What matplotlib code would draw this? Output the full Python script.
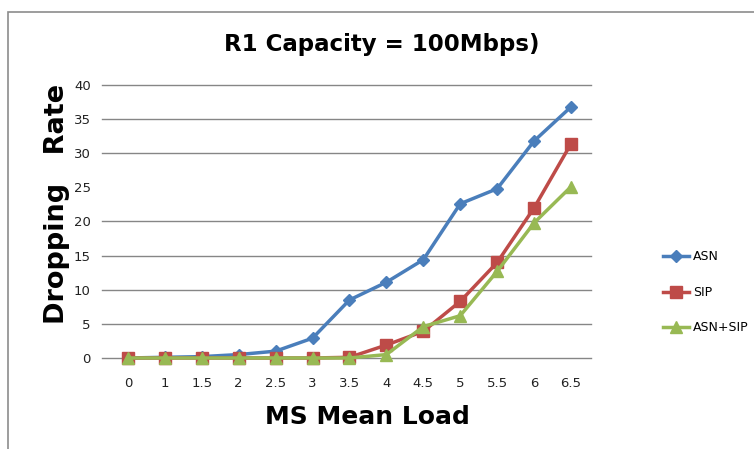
import matplotlib.pyplot as plt
import matplotlib.patches as patches
import numpy as np

# values
loads = ['0', '1', '1.5', '2', '2.5', '3', '3.5', '4', '4.5', '5', '5.5', '6', '6.5']
asn = [0, 0.1, 0.2, 0.5, 1.0, 2.9, 8.5, 11.1, 14.4, 22.6, 24.8, 31.8, 36.8]
sip = [0, 0, 0, 0, 0, 0, 0.1, 1.9, 3.9, 8.3, 14.0, 22.0, 31.4]
asn_sip = [0, 0, 0, 0, 0, 0, 0, 0.5, 4.6, 6.2, 12.7, 19.8, 25.1]
y_ticks = [0, 5, 10, 15, 20, 25, 30, 35, 40]
grid_rows = [0, 5, 10, 15, 20, 30, 35, 40]  # the 25 line is not drawn in the original

fig = plt.figure(figsize=(7.54, 4.49), dpi=100)
ax = fig.add_axes([0.1353, 0.2027, 0.6485, 0.608])

# outer chart border
fig.patches.append(patches.Rectangle((8 / 754, -0.1), 1.2, (449 - 12) / 449 + 0.1,
                                     transform=fig.transFigure, fill=False,
                                     edgecolor='#8c8c8c', linewidth=1.2))

for g in grid_rows:
    ax.axhline(g, color='#868686', linewidth=1, zorder=1, clip_on=False)

x = np.arange(len(loads))
ax.plot(x, asn, color='#4A7EBB', marker='D', markersize=6.5, linewidth=2.5, label='ASN', zorder=3, clip_on=False)
ax.plot(x, sip, color='#BE4B48', marker='s', markersize=8, linewidth=2.5, label='SIP', zorder=4, clip_on=False)
ax.plot(x, asn_sip, color='#98B954', marker='^', markersize=9, linewidth=2.5, label='ASN+SIP', zorder=5, clip_on=False)

ax.set_xlim(-0.7, 12.54)
ax.set_ylim(0, 40)
ax.set_xticks(x)
ax.set_xticklabels(loads)
ax.set_yticks(y_ticks)
ax.tick_params(axis='y', length=0, labelsize=9.5, colors='#222222', pad=8)
ax.tick_params(axis='x', length=0, labelsize=9.5, colors='#222222', pad=14)
for s in ax.spines.values():
    s.set_visible(False)

ax.set_xlabel('MS Mean Load', fontsize=18, fontweight='bold')
ax.xaxis.set_label_coords(0.542, -0.172)
ax.set_ylabel('Dropping   Rate', fontsize=19.5, fontweight='bold')
ax.yaxis.set_label_coords(-0.066, 0.566)
fig.text(0.506, 0.9, 'R1 Capacity = 100Mbps)', ha='center', va='center',
         fontsize=16.5, fontweight='bold')

ax.legend(loc='center left', bbox_to_anchor=(1.124, 0.24), frameon=False,
          fontsize=9, handlelength=2.1, labelspacing=1.8, handletextpad=0.3)

fig.savefig('out.png', dpi=100)
